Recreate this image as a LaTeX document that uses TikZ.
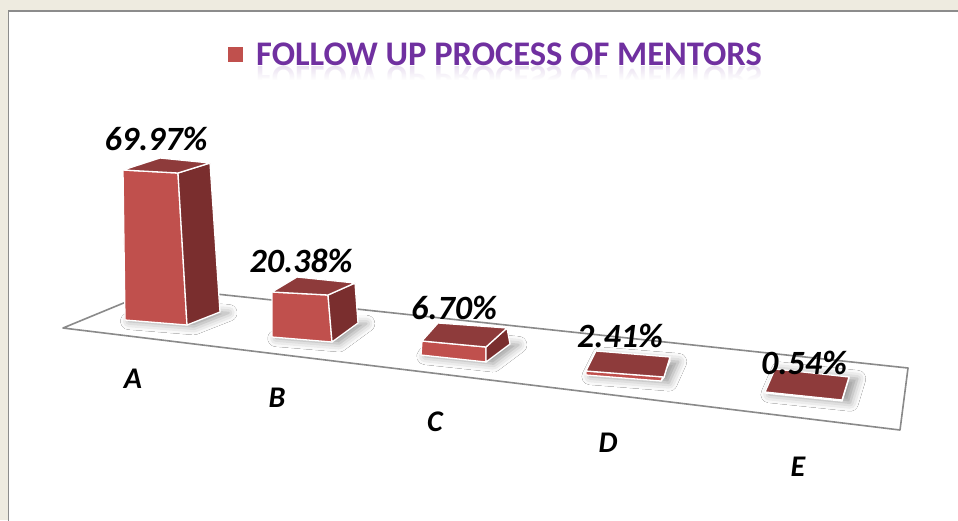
\documentclass[tikz,border=0pt]{standalone}
\usepackage{fontspec}
\setmainfont{Carlito}
\usetikzlibrary{calc,shadows.blur,fadings}

\definecolor{pagebg}{HTML}{EEEBE0}
\definecolor{framegray}{HTML}{8C8C8C}
\definecolor{floorgray}{HTML}{8A8A8A}
\definecolor{colred}{HTML}{C0504D}
\definecolor{coltopred}{HTML}{8E3B3B}
\definecolor{colsidered}{HTML}{7A2E2E}
\definecolor{titlepurple}{HTML}{7030A0}

\tikzset{
  colfront/.style={fill=colred,draw=white,line width=1.3pt,line join=round},
  coltop/.style={fill=coltopred,draw=white,line width=1.3pt,line join=round},
  colside/.style={fill=colsidered,draw=white,line width=1.3pt,line join=round},
  colshadow/.style={blur shadow={shadow xshift=6pt,shadow yshift=-1pt,shadow scale=1.05,shadow blur radius=8pt,shadow opacity=40}},
  pctlabel/.style={anchor=base,inner sep=0pt,font=\fontsize{34}{40}\selectfont\bfseries\itshape},
  catlabel/.style={anchor=base,inner sep=0pt,font=\fontsize{30}{34}\selectfont\bfseries\itshape},
  titlelabel/.style={anchor=base,inner sep=0pt,text=titlepurple,font=\fontsize{34.5}{40}\selectfont\bfseries},
}

% one column from its named corners: tl tr br bl (front), kl kr (top back), kb (side back bottom)
\newcommand{\drawcolumn}[1]{%
  \path[colshadow] (#1-bl) -- (#1-br) -- (#1-kb) -- ($(#1-kl)-(#1-tl)+(#1-bl)$) -- cycle;
  \filldraw[colfront] (#1-tl) -- (#1-tr) -- (#1-br) -- (#1-bl) -- cycle;
  \filldraw[colside]  (#1-tr) -- (#1-kr) -- (#1-kb) -- (#1-br) -- cycle;
  \filldraw[coltop]   (#1-tl) -- (#1-tr) -- (#1-kr) -- (#1-kl) -- cycle;
}

\begin{document}
\begin{tikzpicture}[x=1pt,y=-1pt]
    \useasboundingbox (0,0) rectangle (958,520);
    % panel ==================================================
    \fill[pagebg] (0,0) rectangle (958,520);
    \fill[white] (8.5,10.8) rectangle (960,522);
    \draw[framegray,line width=1.7pt] (8.5,522) -- (8.5,10.8) -- (960,10.8);
    % title ==================================================
    \fill[colred] (228,47) rectangle (243,62);
    \node[titlelabel] (title) at (509,65) {FOLLOW UP PROCESS OF MENTORS};
    \node[titlelabel,opacity=.14,transform shape,yscale=-1] (mirror) at (509,66) {FOLLOW UP PROCESS OF MENTORS};
    \fill[white,path fading=north] (245,66) rectangle (775,80);
    \fill[white] (245,80) rectangle (775,92);
    % floor ==================================================
    \coordinate (F1) at (63,328);
    \coordinate (F2) at (160,288);
    \coordinate (F3) at (908,368);
    \coordinate (F4) at (900,430);
    \draw[floorgray,line width=1.6pt,line join=round] (F1) -- (F2) -- (F3) -- (F4) -- cycle;
    % columns ================================================
    \coordinate (A-tl) at (123,170); \coordinate (A-tr) at (178,173);
    \coordinate (A-br) at (187,325); \coordinate (A-bl) at (125,320);
    \coordinate (A-kl) at (160,158); \coordinate (A-kr) at (210,163); \coordinate (A-kb) at (220,312);
    \drawcolumn{A}
    \coordinate (B-tl) at (272,292); \coordinate (B-tr) at (328,295);
    \coordinate (B-br) at (332,342); \coordinate (B-bl) at (272,337);
    \coordinate (B-kl) at (297,277); \coordinate (B-kr) at (355,283); \coordinate (B-kb) at (358,323);
    \drawcolumn{B}
    \coordinate (C-tl) at (422,341); \coordinate (C-tr) at (486,347);
    \coordinate (C-br) at (486,362); \coordinate (C-bl) at (421,355);
    \coordinate (C-kl) at (438,323); \coordinate (C-kr) at (507,328); \coordinate (C-kb) at (510,344);
    \drawcolumn{C}
    \coordinate (D-tl) at (586,371); \coordinate (D-tr) at (664,377);
    \coordinate (D-br) at (661,381); \coordinate (D-bl) at (586,375);
    \coordinate (D-kl) at (596,351); \coordinate (D-kr) at (670,357); \coordinate (D-kb) at (670,361);
    \drawcolumn{D}
    \coordinate (E-tl) at (765,392); \coordinate (E-tr) at (842,400);
    \coordinate (E-br) at (842,401); \coordinate (E-bl) at (765,393);
    \coordinate (E-kl) at (775,369); \coordinate (E-kr) at (849,377); \coordinate (E-kb) at (849,378);
    \drawcolumn{E}
    % values =================================================
    \node[pctlabel] (vA) at (156,150)   {69.97\%};
    \node[pctlabel] (vB) at (301,272)   {20.38\%};
    \node[pctlabel] (vC) at (454,319.5) {6.70\%};
    \node[pctlabel] (vD) at (620,347)   {2.41\%};
    \node[pctlabel] (vE) at (804,374.5) {0.54\%};
    % categories =============================================
    \node[catlabel] (cA) at (133,388)   {A};
    \node[catlabel] (cB) at (277,407)   {B};
    \node[catlabel] (cC) at (435,431.5) {C};
    \node[catlabel] (cD) at (608,452)   {D};
    \node[catlabel] (cE) at (798,476)   {E};
\end{tikzpicture}
\end{document}
